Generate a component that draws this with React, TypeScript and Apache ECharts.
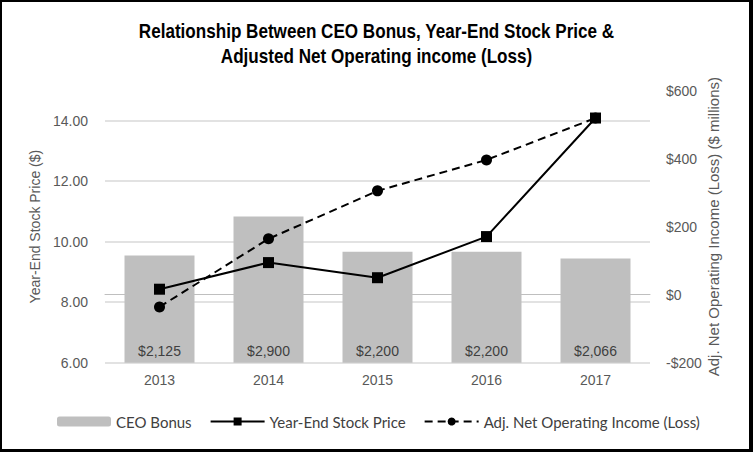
import React, { useEffect, useRef } from "react";
import * as echarts from "echarts";

const years = ["2013", "2014", "2015", "2016", "2017"];
const ceoBonus = [2125, 2900, 2200, 2200, 2066];
const stockPrice = [8.43, 9.31, 8.81, 10.17, 14.09];
const netIncome = [-36, 164, 305, 396, 519];

const titleLines = [
  "Relationship Between CEO Bonus, Year-End Stock Price &",
  "Adjusted Net Operating income (Loss)",
];

const fmtMoney = (v: number) => {
  const s = Math.abs(v)
    .toString()
    .replace(/\B(?=(\d{3})+(?!\d))/g, ",");
  return (v < 0 ? "-$" : "$") + s;
};

export default function App() {
  const ref = useRef<HTMLDivElement>(null);
  useEffect(() => {
    if (!ref.current) return;
    const chart = echarts.init(ref.current, null, { renderer: "svg" });
    const axisFont = "'Liberation Sans', Arial, sans-serif";
    const titleFont = "bold 20px 'Liberation Sans', Arial, sans-serif";
    chart.setOption({
      animation: false,
      backgroundColor: "#ffffff",
      graphic: titleLines.map((t, i) => ({
        type: "text",
        x: 376.5,
        y: 31 + i * 25,
        scaleX: 0.855,
        silent: true,
        style: {
          text: t,
          font: titleFont,
          fill: "#000000",
          textAlign: "center",
          textVerticalAlign: "middle",
        },
      })),
      legend: {
        left: 52,
        top: 409,
        itemWidth: 54,
        itemHeight: 10,
        itemGap: 18,
        textStyle: {
          fontFamily: "Lato, 'Liberation Sans', sans-serif",
          fontSize: 15,
          color: "#404040",
        },
        data: ["CEO Bonus", "Year-End Stock Price", "Adj. Net Operating Income (Loss)"],
      },
      grid: { left: 105, right: 103, top: 90.5, bottom: 89.3 },
      xAxis: {
        type: "category",
        data: years,
        axisLine: { lineStyle: { color: "#bfbfbf", width: 1 } },
        axisTick: { inside: true, length: 5, lineStyle: { color: "#bfbfbf" } },
        axisLabel: { fontFamily: axisFont, fontSize: 14, color: "#595959", margin: 10 },
      },
      yAxis: [
        {
          type: "value",
          min: 6,
          max: 15,
          interval: 2,
          position: "left",
          name: "Year-End Stock Price ($)",
          nameLocation: "middle",
          nameGap: 56.5,
          nameTextStyle: { fontFamily: axisFont, fontSize: 14, color: "#595959" },
          axisLine: { show: false },
          axisTick: { show: false },
          axisLabel: {
            fontFamily: axisFont,
            fontSize: 14,
            color: "#595959",
            margin: 17,
            showMaxLabel: false,
            formatter: (v: number) => v.toFixed(2),
          },
          splitLine: { show: true, showMaxLine: false, lineStyle: { color: "#d9d9d9", width: 1.5 } },
        },
        {
          type: "value",
          min: -200,
          max: 600,
          interval: 200,
          position: "right",
          name: "Adj. Net Operating Income (Loss) ($ millions)",
          nameLocation: "middle",
          nameGap: 56,
          nameMoveOverlap: false,
          nameTextStyle: { fontFamily: axisFont, fontSize: 15, color: "#595959" },
          axisLine: { show: false },
          axisTick: { show: false },
          axisLabel: {
            fontFamily: axisFont,
            fontSize: 14,
            color: "#595959",
            margin: 16,
            formatter: (v: number) => fmtMoney(v),
          },
          splitLine: { show: false },
        },
        {
          type: "value",
          show: false,
          min: 0,
          max: 5400,
          position: "left",
          splitLine: { show: false },
        },
      ],
      series: [
        {
          name: "CEO Bonus",
          type: "bar",
          yAxisIndex: 2,
          data: ceoBonus,
          barWidth: 70,
          itemStyle: { color: "#bfbfbf" },
          label: {
            show: true,
            position: "insideBottom",
            distance: 5,
            fontFamily: axisFont,
            fontSize: 14,
            color: "#404040",
            formatter: (p: any) => fmtMoney(p.value),
          },
        },
        {
          name: "Year-End Stock Price",
          type: "line",
          yAxisIndex: 0,
          data: stockPrice,
          symbol: "rect",
          symbolSize: 11,
          z: 4,
          lineStyle: { color: "#000000", width: 2 },
          itemStyle: { color: "#000000" },
        },
        {
          name: "Adj. Net Operating Income (Loss)",
          type: "line",
          yAxisIndex: 1,
          data: netIncome,
          symbol: "circle",
          symbolSize: 11,
          z: 3,
          lineStyle: { color: "#000000", width: 2, type: [8, 5] },
          itemStyle: { color: "#000000" },
        },
      ],
    });
    return () => chart.dispose();
  }, []);

  return (
    <div style={{ position: "fixed", left: 0, top: 0, width: 753, height: 452, background: "#fff" }}>
      <div ref={ref} style={{ position: "absolute", left: 0, top: 0, width: 753, height: 452 }} />
      <div
        style={{
          position: "absolute",
          left: 0,
          top: 0,
          width: 753,
          height: 452,
          boxSizing: "border-box",
          borderTop: "2px solid #000",
          borderLeft: "2px solid #000",
          borderRight: "4px solid #000",
          borderBottom: "3px solid #000",
          pointerEvents: "none",
        }}
      />
    </div>
  );
}
